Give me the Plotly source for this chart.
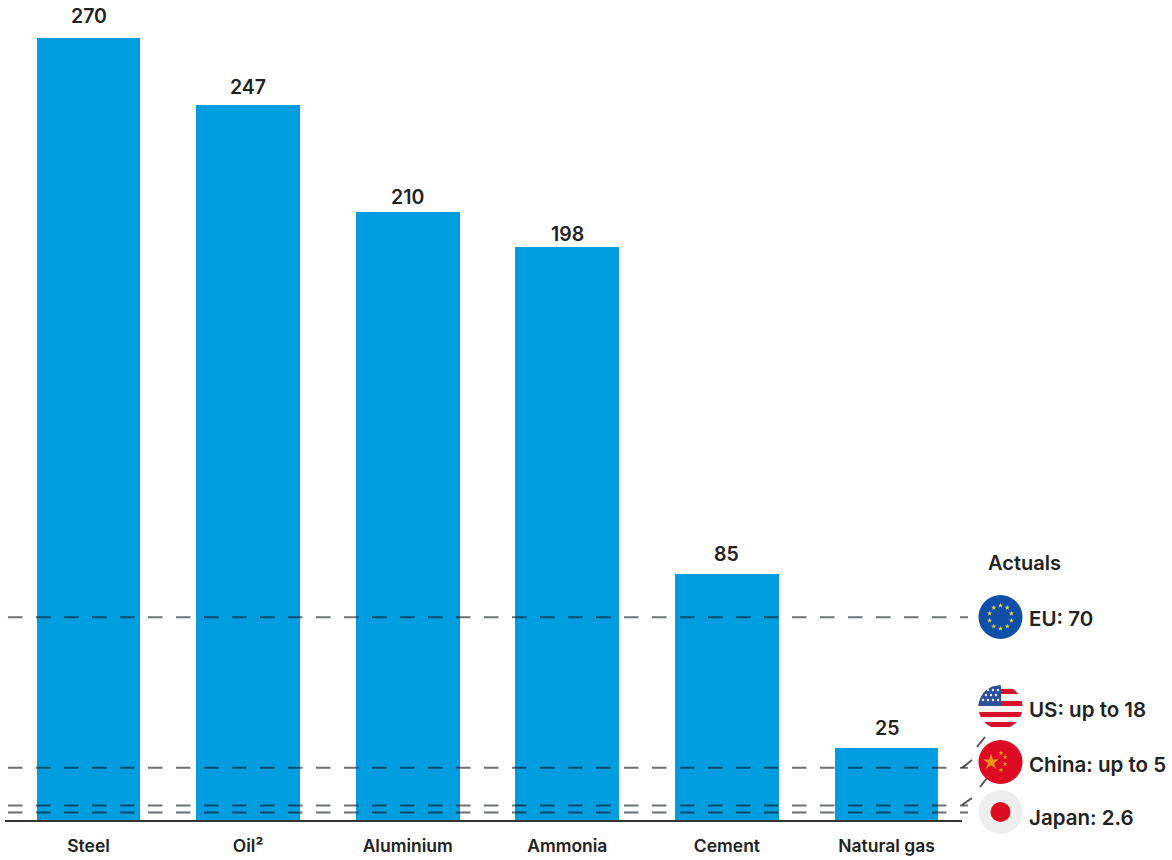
import numpy as np
import plotly.graph_objects as go

categories = ["Steel", "Oil²", "Aluminium", "Ammonia", "Cement", "Natural gas"]
values = [270, 247, 210, 198, 85, 25]
label_gaps = [10, 6, 3, 1, 8, 8]
actual_names = ["EU", "US", "China", "Japan"]
actual_values = [70, 18, 5, 2.6]
actual_labels = ["EU: 70", "US: up to 18", "China: up to 5", "Japan: 2.6"]

W, H = 1172, 860
FONT = "Inter"
INK = "#222222"
BLUE = "#009ee0"
BASE_PX, PX_PER_UNIT = 820, 782 / 270

fig = go.Figure()
fig.add_trace(go.Bar(
    x=list(range(len(categories))), y=values, width=0.65,
    marker=dict(color=BLUE, line=dict(width=0)), cliponaxis=False,
    hoverinfo="skip",
))

shapes = []
# dashed reference lines tied to the data axis
for v in actual_values:
    shapes.append(dict(type="line", xref="paper", yref="y", x0=8 / W, x1=968 / W, y0=v, y1=v, layer="above",
                       line=dict(color="rgba(10,20,30,0.6)", width=2, dash="14.5px,13.5px")))

def circle(cx, cy, r, color):
    return dict(type="circle", xref="x2", yref="y2", x0=cx - r, x1=cx + r, y0=cy - r, y1=cy + r,
                fillcolor=color, line=dict(width=0), layer="below")

def band(cx, cy, r, top, bottom, color, left=None, right=None):
    ys = np.linspace(max(top, cy - r), min(bottom, cy + r), 14)
    half = np.sqrt(np.maximum(r * r - (ys - cy) ** 2, 0))
    xr = cx + half if right is None else np.minimum(cx + half, right)
    xl = cx - half if left is None else np.maximum(cx - half, left)
    pts = list(zip(xr, ys)) + list(zip(xl[::-1], ys[::-1]))
    path = "M" + " L".join(f"{a:.2f},{b:.2f}" for a, b in pts) + " Z"
    return dict(type="path", xref="x2", yref="y2", path=path, fillcolor=color, line=dict(width=0), layer="below")

FX, R = 1000.5, 22
EU_Y, US_Y, CN_Y, JP_Y = 617, 707, 762, 812

# leader dashes (behind flags)
for x0, y0, x1, y1 in [(962, 768, 972, 760), (977, 747, 985, 737), (962, 805, 972, 798), (980, 787, 987, 778)]:
    shapes.append(dict(type="line", xref="x2", yref="y2", x0=x0, y0=y0, x1=x1, y1=y1, layer="below",
                       line=dict(color="#555555", width=2)))

shapes.append(circle(FX, EU_Y, R, "#0f4fa8"))
shapes.append(circle(FX, US_Y, R, "#f4f4f4"))
for top, bottom in [(689, 694), (701, 706), (712, 717), (722, 727)]:
    shapes.append(band(FX, US_Y, R, top, bottom, "#d8102c"))
shapes.append(band(FX, US_Y, R, 685, 706, "#2c4f9e", right=1001))
shapes.append(circle(FX, CN_Y, R, "#dc0a22"))
shapes.append(circle(FX, JP_Y, R, "#eeeeee"))
shapes.append(circle(FX, JP_Y, 10, "#dc0a22"))

ang = np.arange(10) * np.pi / 5 + np.pi / 10
fig.add_trace(go.Scatter(x=FX + 11.5 * np.cos(ang), y=EU_Y + 11.5 * np.sin(ang), xaxis="x2", yaxis="y2", mode="markers",
                         marker=dict(symbol="star", size=4, color="#e8d040", line=dict(width=0)), hoverinfo="skip"))
fig.add_trace(go.Scatter(x=[991, 1001, 1005, 1005, 1001], y=[762, 753, 757, 764, 770], xaxis="x2", yaxis="y2", mode="markers",
                         marker=dict(symbol="star", size=[12, 4, 4, 4, 4], color="#fbd116", line=dict(width=0)), hoverinfo="skip"))
fig.add_trace(go.Scatter(x=[983, 988, 993, 998, 986, 991, 996, 983, 988, 993, 998], y=[690, 690, 690, 690, 695, 695, 695, 700, 700, 700, 700],
                         xaxis="x2", yaxis="y2", mode="markers",
                         marker=dict(symbol="circle", size=2.5, color="#e8ecf5", line=dict(width=0)), hoverinfo="skip"))

annotations = [dict(text="Actuals", x=986, y=563, xref="x2", yref="y2", xanchor="left", yanchor="middle", showarrow=False,
                    font=dict(family=FONT, size=20, color=INK, weight=600))]
for label, ypx in zip(actual_labels, [618, 709, 764, 817]):
    annotations.append(dict(text=label, x=1027, y=ypx, xref="x2", yref="y2", xanchor="left", yanchor="middle", showarrow=False,
                            font=dict(family=FONT, size=20.5, color=INK, weight=600)))
for i, (v, gap) in enumerate(zip(values, label_gaps)):
    annotations.append(dict(text=str(v), x=i, y=v, xref="x", yref="y", xanchor="center", yanchor="bottom", yshift=gap - 2,
                            showarrow=False, font=dict(family=FONT, size=19.5, color=INK, weight=600)))

x_lo, x_hi = (5 - 88.5) / 159.6, (962 - 88.5) / 159.6
fig.update_layout(
    width=W, height=H, autosize=False, showlegend=False, bargap=0,
    margin=dict(l=0, r=0, t=0, b=0), paper_bgcolor="white", plot_bgcolor="rgba(0,0,0,0)",
    xaxis=dict(domain=[5 / W, 962 / W], range=[x_lo, x_hi], tickmode="array", tickvals=list(range(len(categories))),
               ticktext=categories, ticks="", showgrid=False, zeroline=False, showline=True, linecolor="#333333", linewidth=2,
               tickfont=dict(family=FONT, size=17.5, color=INK, weight=600), ticklabelstandoff=9, anchor="y"),
    yaxis=dict(domain=[(H - BASE_PX) / H, 1], range=[0, BASE_PX / PX_PER_UNIT], visible=False, anchor="x"),
    xaxis2=dict(domain=[0, 1], range=[0, W], visible=False, anchor="y2"),
    yaxis2=dict(domain=[0, 1], range=[H, 0], visible=False, anchor="x2"),
    shapes=shapes, annotations=annotations,
)
fig.write_html("out.html", config=dict(displayModeBar=False),
               post_script="document.body.style.margin='0';document.documentElement.style.overflow='hidden';")
